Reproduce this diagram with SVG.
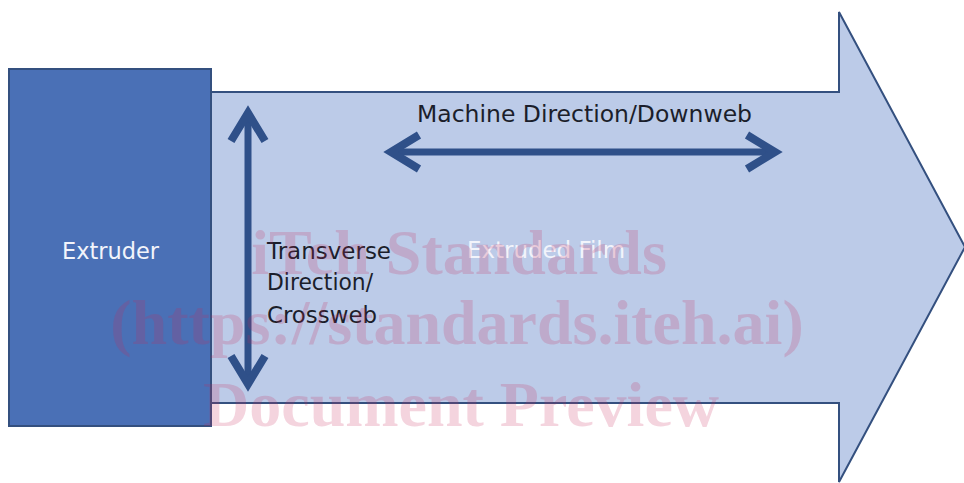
<svg xmlns="http://www.w3.org/2000/svg" width="964" height="483" viewBox="0 0 964 483">
  <style>
    .lbl { font-family: "DejaVu Sans", Verdana, sans-serif; font-size: 23px; fill: #1b1e2b; }
    .wht { font-family: "DejaVu Sans", Verdana, sans-serif; font-size: 23px; fill: #f2f4fb; }
    .conn { stroke: #2f5089; stroke-width: 7; fill: none; }
    .wm { font-family: "Liberation Serif", "Times New Roman", serif; font-weight: bold; font-size: 64px; fill: #c8285a; fill-opacity: 0.2; text-anchor: middle; }
  </style>
  <defs>
    <marker id="chev" markerUnits="userSpaceOnUse" viewBox="-34 -24 48 48" markerWidth="48" markerHeight="48" refX="0" refY="0" orient="auto-start-reverse" overflow="visible">
      <path d="M-28,-17 L0,0 L-28,17" fill="none" stroke="#2f5089" stroke-width="8" stroke-linejoin="miter" stroke-miterlimit="10"/>
    </marker>
  </defs>
  <rect width="964" height="483" fill="#ffffff"/>

  <g id="film">
    <polygon points="211,92 839,92 839,12 965,247 839,482 839,403 211,403" fill="#bccbe8" stroke="#34507f" stroke-width="2"/>
    <text class="wht" x="467" y="258" textLength="158" lengthAdjust="spacingAndGlyphs">Extruded Film</text>
  </g>

  <g id="extruder">
    <rect x="9" y="69" width="202" height="357" fill="#4a70b6" stroke="#34507f" stroke-width="2"/>
    <text class="wht" x="62" y="259" textLength="97" lengthAdjust="spacingAndGlyphs">Extruder</text>
  </g>

  <g id="connectors">
    <line class="conn" x1="248" y1="113" x2="248" y2="384" marker-start="url(#chev)" marker-end="url(#chev)"/>
    <line class="conn" x1="391" y1="152" x2="775" y2="152" marker-start="url(#chev)" marker-end="url(#chev)"/>
  </g>

  <g id="md-label">
    <text class="lbl" x="417" y="122" textLength="335" lengthAdjust="spacingAndGlyphs">Machine Direction/Downweb</text>
  </g>

  <g id="td-label">
    <text class="lbl" x="267" y="259" textLength="124" lengthAdjust="spacingAndGlyphs">Transverse</text>
    <text class="lbl" x="267" y="290" textLength="106" lengthAdjust="spacingAndGlyphs">Direction/</text>
    <text class="lbl" x="267" y="323" textLength="110" lengthAdjust="spacingAndGlyphs">Crossweb</text>
  </g>

  <g id="watermark">
    <text class="wm" x="459" y="274">iTeh Standards</text>
    <text class="wm" x="457" y="344">(https://standards.iteh.ai)</text>
    <text class="wm" x="461" y="426">Document Preview</text>
  </g>
</svg>
